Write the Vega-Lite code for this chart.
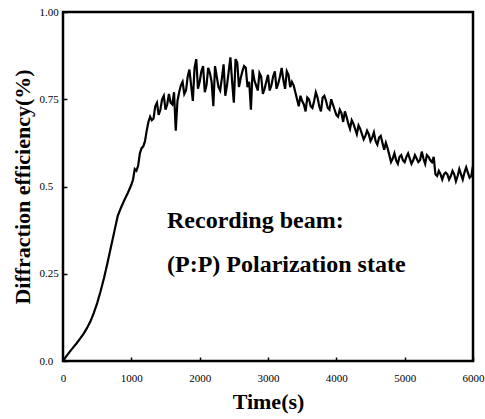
{
  "$schema": "https://vega.github.io/schema/vega-lite/v6.json",
  "width": 410,
  "height": 349,
  "autosize": {"type": "none"},
  "padding": {"left": 63, "top": 12, "right": 12, "bottom": 58},
  "background": "white",
  "config": {
    "view": {"stroke": "black", "strokeWidth": 2.5},
    "font": "Liberation Serif"
  },
  "datasets": {
    "curve": [
      {"t": 0, "y": 0.0}, {"t": 50, "y": 0.014}, {"t": 100, "y": 0.027}, {"t": 150, "y": 0.039},
      {"t": 200, "y": 0.051}, {"t": 250, "y": 0.064}, {"t": 300, "y": 0.078}, {"t": 350, "y": 0.094},
      {"t": 400, "y": 0.113}, {"t": 450, "y": 0.137}, {"t": 500, "y": 0.166}, {"t": 550, "y": 0.2},
      {"t": 600, "y": 0.238}, {"t": 650, "y": 0.28}, {"t": 700, "y": 0.325}, {"t": 750, "y": 0.37},
      {"t": 800, "y": 0.415}, {"t": 850, "y": 0.44}, {"t": 900, "y": 0.462}, {"t": 950, "y": 0.482},
      {"t": 1000, "y": 0.505}, {"t": 1025, "y": 0.52}, {"t": 1050, "y": 0.55}, {"t": 1075, "y": 0.545},
      {"t": 1100, "y": 0.56}, {"t": 1125, "y": 0.595}, {"t": 1150, "y": 0.61}, {"t": 1175, "y": 0.615},
      {"t": 1200, "y": 0.63}, {"t": 1225, "y": 0.66}, {"t": 1250, "y": 0.685}, {"t": 1275, "y": 0.7},
      {"t": 1300, "y": 0.69}, {"t": 1325, "y": 0.695}, {"t": 1350, "y": 0.73}, {"t": 1375, "y": 0.74},
      {"t": 1400, "y": 0.705}, {"t": 1425, "y": 0.72}, {"t": 1450, "y": 0.75}, {"t": 1475, "y": 0.76},
      {"t": 1500, "y": 0.72}, {"t": 1525, "y": 0.735}, {"t": 1550, "y": 0.765}, {"t": 1575, "y": 0.74},
      {"t": 1600, "y": 0.735}, {"t": 1625, "y": 0.77}, {"t": 1650, "y": 0.66}, {"t": 1675, "y": 0.745},
      {"t": 1700, "y": 0.77}, {"t": 1725, "y": 0.79}, {"t": 1750, "y": 0.8}, {"t": 1775, "y": 0.765},
      {"t": 1800, "y": 0.775}, {"t": 1825, "y": 0.815}, {"t": 1850, "y": 0.835}, {"t": 1875, "y": 0.79},
      {"t": 1900, "y": 0.745}, {"t": 1925, "y": 0.84}, {"t": 1950, "y": 0.865}, {"t": 1975, "y": 0.78},
      {"t": 2000, "y": 0.8}, {"t": 2025, "y": 0.83}, {"t": 2050, "y": 0.845}, {"t": 2075, "y": 0.77},
      {"t": 2100, "y": 0.79}, {"t": 2125, "y": 0.84}, {"t": 2150, "y": 0.825}, {"t": 2175, "y": 0.8},
      {"t": 2200, "y": 0.73}, {"t": 2225, "y": 0.845}, {"t": 2250, "y": 0.815}, {"t": 2275, "y": 0.785},
      {"t": 2300, "y": 0.775}, {"t": 2325, "y": 0.81}, {"t": 2350, "y": 0.85}, {"t": 2375, "y": 0.76},
      {"t": 2400, "y": 0.79}, {"t": 2425, "y": 0.83}, {"t": 2450, "y": 0.87}, {"t": 2475, "y": 0.8},
      {"t": 2500, "y": 0.74}, {"t": 2525, "y": 0.865}, {"t": 2550, "y": 0.855}, {"t": 2575, "y": 0.785},
      {"t": 2600, "y": 0.81}, {"t": 2625, "y": 0.83}, {"t": 2650, "y": 0.845}, {"t": 2675, "y": 0.84},
      {"t": 2700, "y": 0.785}, {"t": 2725, "y": 0.8}, {"t": 2750, "y": 0.72}, {"t": 2775, "y": 0.835},
      {"t": 2800, "y": 0.805}, {"t": 2825, "y": 0.79}, {"t": 2850, "y": 0.775}, {"t": 2875, "y": 0.825},
      {"t": 2900, "y": 0.815}, {"t": 2925, "y": 0.765}, {"t": 2950, "y": 0.78}, {"t": 2975, "y": 0.8},
      {"t": 3000, "y": 0.82}, {"t": 3025, "y": 0.775}, {"t": 3050, "y": 0.79}, {"t": 3075, "y": 0.815},
      {"t": 3100, "y": 0.83}, {"t": 3125, "y": 0.78}, {"t": 3150, "y": 0.795}, {"t": 3175, "y": 0.815},
      {"t": 3200, "y": 0.84}, {"t": 3225, "y": 0.805}, {"t": 3250, "y": 0.78}, {"t": 3275, "y": 0.83},
      {"t": 3300, "y": 0.82}, {"t": 3325, "y": 0.785}, {"t": 3350, "y": 0.8}, {"t": 3375, "y": 0.79},
      {"t": 3400, "y": 0.77}, {"t": 3425, "y": 0.75}, {"t": 3450, "y": 0.73}, {"t": 3475, "y": 0.76},
      {"t": 3500, "y": 0.745}, {"t": 3525, "y": 0.735}, {"t": 3550, "y": 0.715}, {"t": 3575, "y": 0.755},
      {"t": 3600, "y": 0.75}, {"t": 3625, "y": 0.73}, {"t": 3650, "y": 0.725}, {"t": 3675, "y": 0.745},
      {"t": 3700, "y": 0.77}, {"t": 3725, "y": 0.755}, {"t": 3750, "y": 0.73}, {"t": 3775, "y": 0.715},
      {"t": 3800, "y": 0.755}, {"t": 3825, "y": 0.76}, {"t": 3850, "y": 0.745}, {"t": 3875, "y": 0.725},
      {"t": 3900, "y": 0.72}, {"t": 3925, "y": 0.75}, {"t": 3950, "y": 0.735}, {"t": 3975, "y": 0.72},
      {"t": 4000, "y": 0.705}, {"t": 4025, "y": 0.7}, {"t": 4050, "y": 0.72}, {"t": 4075, "y": 0.71},
      {"t": 4100, "y": 0.685}, {"t": 4125, "y": 0.715}, {"t": 4150, "y": 0.7}, {"t": 4175, "y": 0.68},
      {"t": 4200, "y": 0.665}, {"t": 4225, "y": 0.69}, {"t": 4250, "y": 0.68}, {"t": 4275, "y": 0.665},
      {"t": 4300, "y": 0.65}, {"t": 4325, "y": 0.675}, {"t": 4350, "y": 0.665}, {"t": 4375, "y": 0.65},
      {"t": 4400, "y": 0.635}, {"t": 4425, "y": 0.645}, {"t": 4450, "y": 0.66}, {"t": 4475, "y": 0.65},
      {"t": 4500, "y": 0.63}, {"t": 4525, "y": 0.64}, {"t": 4550, "y": 0.655}, {"t": 4575, "y": 0.63},
      {"t": 4600, "y": 0.62}, {"t": 4625, "y": 0.64}, {"t": 4650, "y": 0.645}, {"t": 4675, "y": 0.625},
      {"t": 4700, "y": 0.605}, {"t": 4725, "y": 0.625}, {"t": 4750, "y": 0.61}, {"t": 4775, "y": 0.59},
      {"t": 4800, "y": 0.57}, {"t": 4825, "y": 0.58}, {"t": 4850, "y": 0.595}, {"t": 4875, "y": 0.575},
      {"t": 4900, "y": 0.565}, {"t": 4925, "y": 0.585}, {"t": 4950, "y": 0.59}, {"t": 4975, "y": 0.575},
      {"t": 5000, "y": 0.57}, {"t": 5025, "y": 0.585}, {"t": 5050, "y": 0.595}, {"t": 5075, "y": 0.58},
      {"t": 5100, "y": 0.565}, {"t": 5125, "y": 0.575}, {"t": 5150, "y": 0.59}, {"t": 5175, "y": 0.58},
      {"t": 5200, "y": 0.57}, {"t": 5225, "y": 0.575}, {"t": 5250, "y": 0.6}, {"t": 5275, "y": 0.58},
      {"t": 5300, "y": 0.565}, {"t": 5325, "y": 0.59}, {"t": 5350, "y": 0.585}, {"t": 5375, "y": 0.575},
      {"t": 5400, "y": 0.57}, {"t": 5425, "y": 0.585}, {"t": 5450, "y": 0.535}, {"t": 5475, "y": 0.53},
      {"t": 5500, "y": 0.545}, {"t": 5525, "y": 0.535}, {"t": 5550, "y": 0.52}, {"t": 5575, "y": 0.535},
      {"t": 5600, "y": 0.54}, {"t": 5625, "y": 0.535}, {"t": 5650, "y": 0.52}, {"t": 5675, "y": 0.53},
      {"t": 5700, "y": 0.545}, {"t": 5725, "y": 0.535}, {"t": 5750, "y": 0.515}, {"t": 5775, "y": 0.53},
      {"t": 5800, "y": 0.55}, {"t": 5825, "y": 0.535}, {"t": 5850, "y": 0.52}, {"t": 5875, "y": 0.54},
      {"t": 5900, "y": 0.555}, {"t": 5925, "y": 0.54}, {"t": 5950, "y": 0.525}, {"t": 5975, "y": 0.53},
      {"t": 6000, "y": 0.56}
    ],
    "notes": [
      {"t": 1522, "y": 0.381, "label": "Recording beam:"},
      {"t": 1522, "y": 0.255, "label": "(P:P) Polarization state"}
    ]
  },
  "layer": [
    {
      "data": {"name": "curve"},
      "mark": {"type": "line", "color": "black", "strokeWidth": 2.2, "clip": true},
      "encoding": {
        "x": {
          "field": "t", "type": "quantitative",
          "scale": {"domain": [0, 6000], "nice": false},
          "axis": {
            "values": [0, 1000, 2000, 3000, 4000, 5000, 6000],
            "format": "d",
            "title": "Time(s)",
            "titleFont": "Liberation Serif", "titleFontSize": 22, "titleFontWeight": "bold",
            "titleColor": "black", "titlePadding": 8,
            "labelFont": "Liberation Serif", "labelFontSize": 11, "labelColor": "black",
            "labelPadding": 15, "labelFlush": false,
            "domain": false, "grid": false,
            "ticks": true, "tickSize": -4, "tickColor": "black", "tickWidth": 1.5
          }
        },
        "y": {
          "field": "y", "type": "quantitative",
          "scale": {"domain": [0, 1], "nice": false},
          "axis": {
            "values": [0, 0.25, 0.5, 0.75, 1],
            "format": ".2~f",
            "labelExpr": "datum.value == 0 ? '0.0' : (datum.value == 1 ? '1.00' : datum.label)",
            "title": "Diffraction efficiency(%)",
            "titleFont": "Liberation Serif", "titleFontSize": 22, "titleFontWeight": "bold",
            "titleColor": "black", "titlePadding": 5,
            "labelFont": "Liberation Serif", "labelFontSize": 11, "labelColor": "black",
            "labelAlign": "left", "labelPadding": 28, "labelFlush": false,
            "domain": false, "grid": false,
            "ticks": true, "tickSize": -4, "tickColor": "black", "tickWidth": 1.5
          }
        }
      }
    },
    {
      "data": {"name": "notes"},
      "mark": {"type": "text", "align": "left", "baseline": "alphabetic", "font": "Liberation Serif", "fontSize": 24, "fontWeight": "bold", "color": "black"},
      "encoding": {
        "x": {"field": "t", "type": "quantitative"},
        "y": {"field": "y", "type": "quantitative"},
        "text": {"field": "label"}
      }
    }
  ]
}
